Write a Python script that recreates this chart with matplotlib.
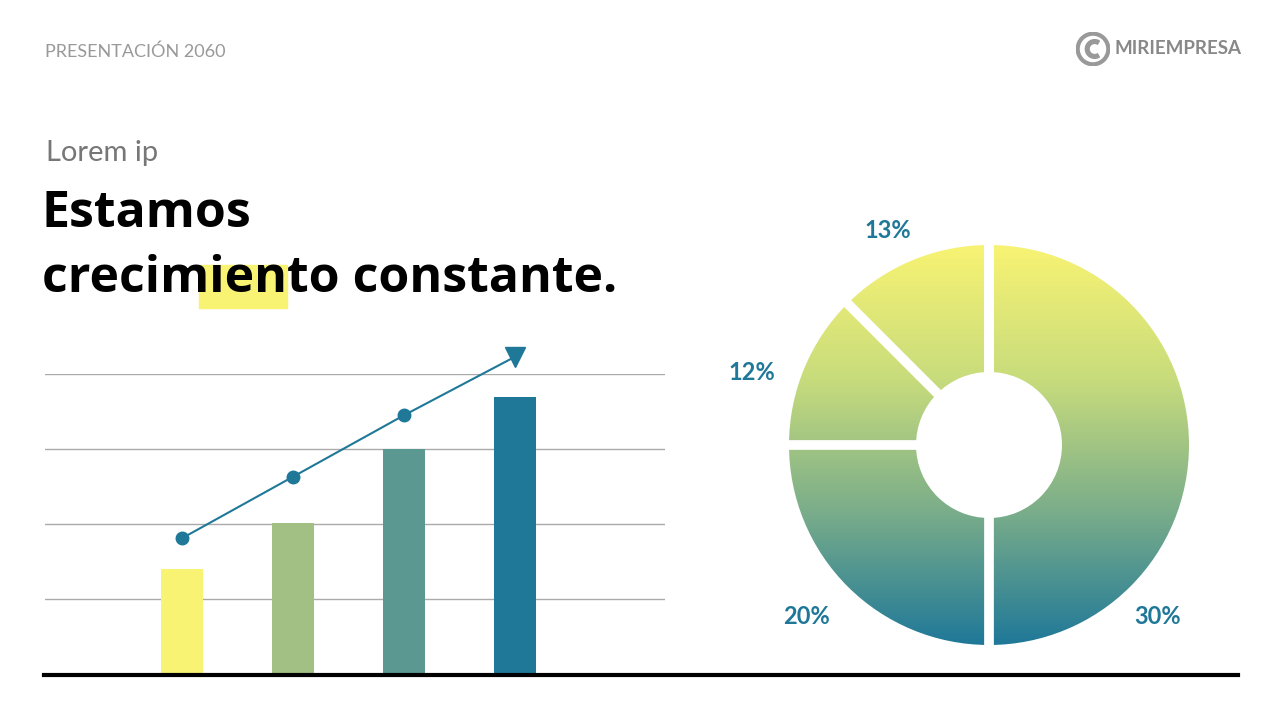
import matplotlib
matplotlib.use("Agg")
import matplotlib.pyplot as plt
import numpy as np
from matplotlib.patches import Wedge, Rectangle, Circle
from matplotlib.colors import LinearSegmentedColormap

categories = ["A", "B", "C", "D"]
bar_values = [1.4, 2.01, 3.0, 3.69]
line_values = [1.81, 2.63, 3.45, 4.23]
bar_colors = ["#f8f373", "#a3c084", "#5a9891", "#1f7898"]
donut_labels = ["30%", "20%", "12%", "13%"]
donut_sizes = [50, 25, 12.5, 12.5]
grid_levels = [1, 2, 3, 4]

W, H = 1280, 720
fig = plt.figure(figsize=(12.8, 7.2), dpi=100)
fig.patch.set_facecolor("white")
FONT = "Lato"
TEAL = "#1f7898"

def fx(x): return x / W
def fy(y): return 1 - y / H

# header
fig.text(fx(45), fy(52), "PRESENTACIÓN 2060", fontsize=13, color="#999999", family=FONT, va="center")
fig.text(fx(1114), fy(49), "MIRIEMPRESA", fontsize=13.5, color="#888888", family=FONT, weight="bold", va="center")
ax_logo = fig.add_axes([fx(1076), fy(66), 34 / W, 34 / H])
ax_logo.set_xlim(-1, 1); ax_logo.set_ylim(-1, 1); ax_logo.axis("off")
ax_logo.add_patch(Circle((0, 0), 0.9, fill=False, lw=3, ec="#999999"))
ax_logo.add_patch(Wedge((0.1, 0), 0.55, 60, 300, width=0.22, color="#999999"))

fig.text(fx(46), fy(153), "Lorem ip", fontsize=21, color="#777777", family=FONT, va="center")
fig.patches.append(Rectangle((fx(199), fy(308)), 88 / W, 43 / H, transform=fig.transFigure, color="#f8f373", zorder=0))
fig.text(fx(42), fy(214), "Estamos", fontsize=36, weight="bold", family="Open Sans", va="center", zorder=2)
fig.text(fx(42), fy(279), "crecimiento constante.", fontsize=36, weight="bold", family="Open Sans", va="center", zorder=2)

# bar chart
ax = fig.add_axes([fx(45), fy(674), 620 / W, 300 / H])
ax.set_xlim(1 - 137 / 111, 1 + 483 / 111)
ax.set_ylim(0, 4)
x = np.arange(1, len(categories) + 1)
for g in grid_levels:
    ax.axhline(g, color="#aaaaaa", lw=1, zorder=0)
ax.bar(x, bar_values, width=42 / 111, color=bar_colors, zorder=2)
ax.plot(x, line_values, color=TEAL, lw=1.5, zorder=3, clip_on=False)
ax.plot(x[:-1], line_values[:-1], "o", color=TEAL, ms=9, zorder=4, clip_on=False)
ax.plot(x[-1:], line_values[-1:], "v", color=TEAL, ms=14, zorder=4, clip_on=False)
ax.axis("off")

fig.add_artist(plt.Line2D([fx(44), fx(1238)], [fy(675), fy(675)], color="black", lw=3, transform=fig.transFigure))

# donut
axd = fig.add_axes([fx(769), fy(665), 440 / W, 440 / H])
axd.set_xlim(-1.1, 1.1); axd.set_ylim(-1.1, 1.1); axd.axis("off")
cmap = LinearSegmentedColormap.from_list("g", ["#1f7898", "#7aad8a", "#c8dc7c", "#f8f373"])
grad = np.linspace(0, 1, 256).reshape(-1, 1)
inner = 0.365
start = 90.0
bounds = [start]
for s in donut_sizes:
    end = start - s / 100 * 360
    w = Wedge((0, 0), 1.0, end, start, width=1.0 - inner, transform=axd.transData)
    im = axd.imshow(grad, extent=[-1, 1, -1, 1], origin="lower", cmap=cmap, aspect="auto")
    im.set_clip_path(w)
    start = end
    bounds.append(end)
for a in bounds:
    r = np.radians(a)
    axd.plot([inner * 0.9 * np.cos(r), 1.05 * np.cos(r)], [inner * 0.9 * np.sin(r), 1.05 * np.sin(r)], color="white", lw=7, solid_capstyle="butt")

label_pos = [(0.845, -0.86), (-0.915, -0.855), (-1.185, 0.365), (-0.505, 1.075)]
for lab, (lx, ly) in zip(donut_labels, label_pos):
    axd.text(lx, ly, lab, fontsize=17, weight="bold", color=TEAL, family=FONT, ha="center", va="center", clip_on=False)

fig.savefig("out.png", dpi=100)
